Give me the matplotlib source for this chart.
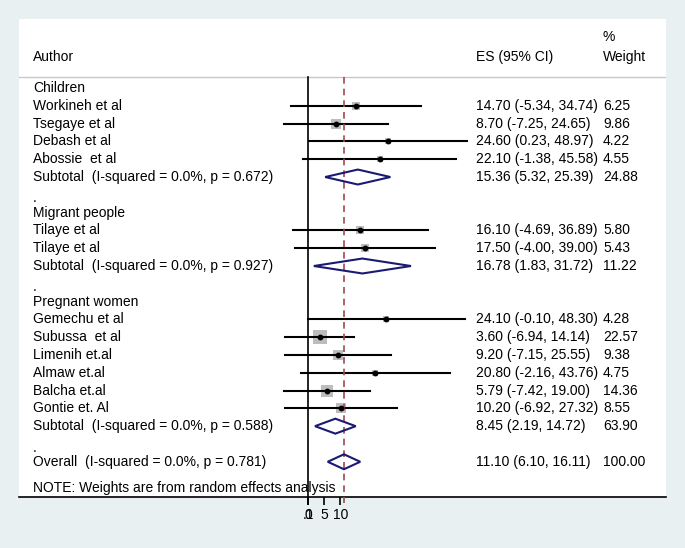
import matplotlib
matplotlib.use("Agg")
import matplotlib.pyplot as plt
from matplotlib.patches import Polygon

plt.rcParams["font.family"] = ["Liberation Sans", "DejaVu Sans"]

# ---- data ----
groups = ["Children", "Migrant people", "Pregnant women"]

authors = [
    ["Workineh et al", "Tsegaye et al", "Debash et al", "Abossie  et al"],
    ["Tilaye et al", "Tilaye et al"],
    ["Gemechu et al", "Subussa  et al", "Limenih et.al", "Almaw et.al",
     "Balcha et.al", "Gontie et. Al"],
]
es = [
    [14.70, 8.70, 24.60, 22.10],
    [16.10, 17.50],
    [24.10, 3.60, 9.20, 20.80, 5.79, 10.20],
]
lo = [
    [-5.34, -7.25, 0.23, -1.38],
    [-4.69, -4.00],
    [-0.10, -6.94, -7.15, -2.16, -7.42, -6.92],
]
hi = [
    [34.74, 24.65, 48.97, 45.58],
    [36.89, 39.00],
    [48.30, 14.14, 25.55, 43.76, 19.00, 27.32],
]
weights = [
    [6.25, 9.86, 4.22, 4.55],
    [5.80, 5.43],
    [4.28, 22.57, 9.38, 4.75, 14.36, 8.55],
]

sub_es = [15.36, 16.78, 8.45]
sub_lo = [5.32, 1.83, 2.19]
sub_hi = [25.39, 31.72, 14.72]
sub_w = [24.88, 11.22, 63.90]
sub_p = [0.672, 0.927, 0.588]

overall = (11.10, 6.10, 16.11)
overall_p = 0.781

tick_vals = [0, 0.1, 5, 10]
tick_labels = ["0", ".1", "5", "10"]

# ---- layout ----
BG = "#e8f0f2"
FS = 10
X_AUTHOR, X_ES, X_W = -84.6, 51.7, 90.8
DIAMOND_H = 0.42
NAVY = "#1a1a72"

fig = plt.figure(figsize=(6.85, 5.48), dpi=100, facecolor=BG)
ax = fig.add_axes([19 / 685, 51 / 548, 647 / 685, 478 / 548])
ax.set_facecolor("white")
ax.set_xlim(-88.9, 110.2)
ax.set_ylim(22.98, -3.88)
for s in ["top", "left", "right"]:
    ax.spines[s].set_visible(False)
ax.spines["bottom"].set_linewidth(1.2)
ax.set_yticks([])
ax.set_xticks(tick_vals)
ax.set_xticklabels(tick_labels, fontsize=10)
ax.tick_params(axis="x", direction="out", length=6, width=1.2, pad=2)


def diamond(y, c, l, h):
    pts = [(l, y), (c, y - DIAMOND_H), (h, y), (c, y + DIAMOND_H)]
    ax.add_patch(Polygon(pts, closed=True, fill=False, edgecolor=NAVY,
                         linewidth=1.5, zorder=4))


def row_text(y, label, est, w):
    ax.text(X_AUTHOR, y, label, fontsize=FS, va="center")
    ax.text(X_ES, y, est, fontsize=FS, va="center")
    ax.text(X_W, y, w, fontsize=FS, va="center")


# header
ax.text(X_AUTHOR, -1.74, "Author", fontsize=FS, va="center")
ax.text(X_ES, -1.74, "ES (95% CI)", fontsize=FS, va="center")
ax.text(X_W, -2.87, "%", fontsize=FS, va="center")
ax.text(X_W, -1.74, "Weight", fontsize=FS, va="center")
ax.axhline(-0.62, color="#c8c8c8", linewidth=1)

row = 0
for g in range(len(groups)):
    ax.text(X_AUTHOR, row, groups[g], fontsize=FS, va="center")
    row += 1
    for i in range(len(authors[g])):
        ax.plot([lo[g][i], hi[g][i]], [row, row], color="black", lw=1.5, zorder=3)
        side = 3.1 * weights[g][i] ** 0.5 * 0.72
        ax.scatter(es[g][i], row, marker="s", s=side ** 2, color="#bdbdbd",
                   linewidths=0, zorder=2)
        ax.plot(es[g][i], row, "o", color="black", ms=3.2, zorder=5)
        row_text(row, authors[g][i],
                 f"{es[g][i]:.2f} ({lo[g][i]:.2f}, {hi[g][i]:.2f})",
                 f"{weights[g][i]:.2f}")
        row += 1
    diamond(row, sub_es[g], sub_lo[g], sub_hi[g])
    row_text(row, f"Subtotal  (I-squared = 0.0%, p = {sub_p[g]:.3f})",
             f"{sub_es[g]:.2f} ({sub_lo[g]:.2f}, {sub_hi[g]:.2f})",
             f"{sub_w[g]:.2f}")
    row += 1
    ax.text(X_AUTHOR, row + 0.2, ".", fontsize=FS, va="center")
    row += 1

diamond(row, *overall)
row_text(row, f"Overall  (I-squared = 0.0%, p = {overall_p:.3f})",
         f"{overall[0]:.2f} ({overall[1]:.2f}, {overall[2]:.2f})", "100.00")

ax.text(X_AUTHOR, row + 1.5, "NOTE: Weights are from random effects analysis",
        fontsize=FS, va="center", zorder=1)

# null line and overall effect line
ax.plot([0, 0], [-0.62, 23.3], color="black", lw=1.2, clip_on=False, zorder=3)
ax.plot([overall[0]] * 2, [-0.62, 23.3], color="#a04850", lw=1.2,
        ls=(0, (4, 3)), clip_on=False, zorder=3)

fig.savefig("out.png", dpi=100, facecolor=BG)
